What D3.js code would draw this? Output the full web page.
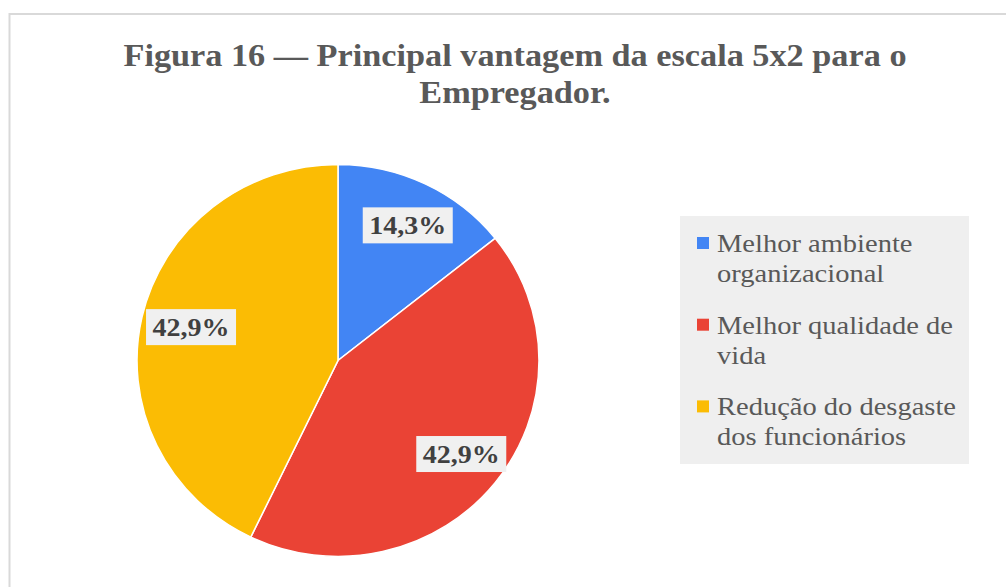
<!DOCTYPE html>
<html>
<head>
<meta charset="utf-8">
<script src="https://cdn.jsdelivr.net/npm/d3@7"></script>
<style>
  body { margin: 0; background: #fff; }
  svg { display: block; }
</style>
</head>
<body>
<script>
const categories = ['Melhor ambiente organizacional', 'Melhor qualidade de vida', 'Redução do desgaste dos funcionários'];
const legendLines = [['Melhor ambiente', 'organizacional'], ['Melhor qualidade de', 'vida'], ['Redução do desgaste', 'dos funcionários']];
const values = [14.3, 42.9, 42.9];
const labels = ['14,3%', '42,9%', '42,9%'];
const colors = ['#4285f4', '#ea4335', '#fbbc04'];
const titleLines = ['Figura 16 — Principal vantagem da escala 5x2 para o', 'Empregador.'];

const width = 1006, height = 587;
const serif = '"Liberation Serif", "Times New Roman", serif';

const svg = d3.select('body').append('svg')
  .attr('width', width)
  .attr('height', height);

// the source rendering is a bit wider than Liberation Serif, stretch text to fit
function widen(sel, k) {
  sel.each(function() {
    const len = this.getComputedTextLength();
    d3.select(this).attr('textLength', len * k).attr('lengthAdjust', 'spacingAndGlyphs');
  });
}

// chart frame
svg.append('rect')
  .attr('x', 9.5).attr('y', 14)
  .attr('width', 1100).attr('height', 700)
  .attr('fill', '#fff')
  .attr('stroke', '#d9d9d9')
  .attr('stroke-width', 2);

svg.append('g').selectAll('text')
  .data(titleLines)
  .enter().append('text')
  .attr('x', 515)
  .attr('y', (d, i) => 66 + i * 37)
  .attr('text-anchor', 'middle')
  .style('font-family', serif)
  .style('font-weight', 'bold')
  .style('font-size', '31px')
  .style('fill', '#595959')
  .text(d => d)
  .call(widen, 1.105);

const cx = 338, cy = 360.5, r = 196, sx = 201 / 196;

const color = d3.scaleOrdinal().domain(categories).range(colors);
const pie = d3.pie().sort(null).value(d => d.value);
const arcs = pie(categories.map((c, i) => ({ cat: c, value: values[i], label: labels[i] })));
const arc = d3.arc().innerRadius(0).outerRadius(r);
const labelArc = d3.arc().innerRadius(150).outerRadius(150);

svg.append('g')
  .attr('transform', 'translate(' + cx + ',' + cy + ')scale(' + sx + ',1)')
  .selectAll('path')
  .data(arcs)
  .enter().append('path')
  .attr('d', arc)
  .attr('fill', d => color(d.data.cat))
  .attr('stroke', '#fff')
  .attr('stroke-width', 1.5);

const lbl = svg.append('g')
  .attr('transform', 'translate(' + cx + ',' + cy + ')')
  .selectAll('g')
  .data(arcs)
  .enter().append('g')
  .attr('transform', d => {
    const c = labelArc.centroid(d);
    return 'translate(' + (c[0] * sx + 3) + ',' + c[1] + ')';
  });

lbl.append('rect')
  .attr('x', -45).attr('y', -18)
  .attr('width', 90).attr('height', 36)
  .attr('fill', '#f0f0f0');

lbl.append('text')
  .attr('text-anchor', 'middle')
  .attr('y', 9)
  .style('font-family', serif)
  .style('font-weight', 'bold')
  .style('font-size', '25px')
  .style('fill', '#404040')
  .text(d => d.data.label)
  .call(widen, 1.12);

// legend
const legend = svg.append('g');
legend.append('rect')
  .attr('x', 680).attr('y', 216)
  .attr('width', 289).attr('height', 248)
  .attr('fill', '#efefef');

const items = legend.selectAll('g.item')
  .data(categories)
  .enter().append('g')
  .attr('class', 'item')
  .attr('transform', (d, i) => 'translate(697,' + (252 + i * 81.7) + ')');

items.append('rect')
  .attr('x', 0).attr('y', -15)
  .attr('width', 12).attr('height', 12)
  .attr('fill', d => color(d));

items.selectAll('text')
  .data((d, i) => legendLines[i])
  .enter().append('text')
  .attr('x', 20)
  .attr('y', (d, j) => j * 30)
  .style('font-family', serif)
  .style('font-size', '25px')
  .style('fill', '#595959')
  .text(d => d)
  .call(widen, 1.14);
</script>
</body>
</html>
